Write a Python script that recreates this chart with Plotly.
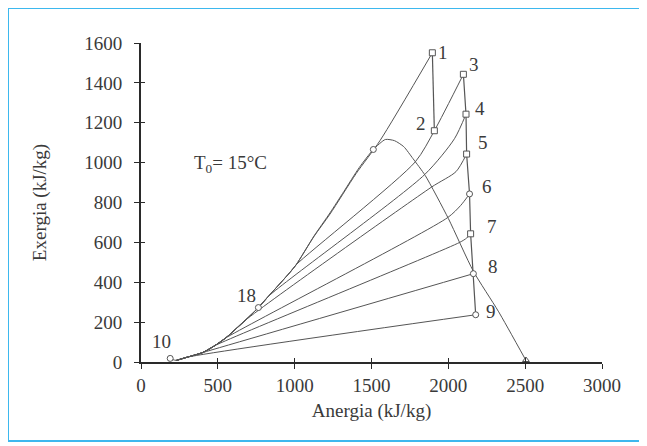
import plotly.graph_objects as go

# ---------------- data ----------------
x_ticks = [0, 500, 1000, 1500, 2000, 2500, 3000]
y_ticks = [0, 200, 400, 600, 800, 1000, 1200, 1400, 1600]

# common compressed/saturated liquid branch
liq_x = [230, 300, 400, 480, 550, 680, 764, 830, 970, 1010]
liq_y = [8, 24, 47, 82, 120, 210, 273, 330, 450, 488]

# isobar continuations (after leaving the liquid branch)
# (number of liquid points used, extra x, extra y)
iso_1 = (10, [1126, 1230, 1400, 1555, 1896], [630, 742, 945, 1110, 1551])
iso_3 = (10, [1785, 1909, 2098], [1004, 1160, 1443])
iso_4 = (8, [1846, 2040, 2115], [940, 1120, 1243])
iso_5 = (6, [1890, 2050, 2119], [877, 955, 1043])
iso_6 = (5, [1997, 2080, 2138], [725, 785, 843])
iso_7 = (4, [2074, 2120, 2145], [600, 622, 643])
iso_8 = (3, [2163], [443])
iso_9 = (2, [2178], [237])

# saturation dome
dome_x = [195] + liq_x + [1126, 1230, 1320, 1420, 1512, 1590, 1650, 1710, 1770,
                          1850, 2000, 2163, 2325, 2505]
dome_y = [15] + liq_y + [632, 748, 855, 975, 1066, 1116, 1110, 1080, 1020,
                         935, 720, 455, 255, 8]

# cycle state points
exp12_x = [1896, 1909]
exp12_y = [1551, 1160]
turb_x = [2098, 2115, 2119, 2138, 2145, 2163, 2178]
turb_y = [1443, 1243, 1043, 843, 643, 443, 237]

pts_labels = ["1", "2", "3", "4", "5", "6", "7", "8", "9", "10", "18"]
pts_x = [1896, 1909, 2098, 2115, 2119, 2138, 2145, 2163, 2178, 190, 764]
pts_y = [1551, 1160, 1443, 1243, 1043, 843, 643, 443, 237, 18, 273]
pts_sym = ["square", "square", "square", "square", "square",
           "circle", "square", "circle", "circle", "circle", "circle"]
lab_dx = [11, -13, 11, 14, 16, 17, 21, 20, 15, -9, -12]
lab_dy = [0, 7, 10, 6, 12, 7, 7, 7, 3, 17, 12]

crit_x = [1512]
crit_y = [1066]
end_x = [2505]
end_y = [10]

# ---------------- figure ----------------
LINE = "#555555"
FONT = "Liberation Serif"
TXT = "#3a3a3a"

fig = go.Figure()

for n, ex, ey in [iso_1, iso_3, iso_4, iso_5, iso_6, iso_7, iso_8, iso_9]:
    fig.add_trace(go.Scatter(
        x=liq_x[:n] + ex, y=liq_y[:n] + ey, mode="lines",
        line=dict(color=LINE, width=1, shape="spline", smoothing=0.7),
        hoverinfo="skip"))

fig.add_trace(go.Scatter(
    x=dome_x, y=dome_y, mode="lines",
    line=dict(color=LINE, width=1, shape="spline", smoothing=0.6),
    hoverinfo="skip"))

fig.add_trace(go.Scatter(x=exp12_x, y=exp12_y, mode="lines",
                         line=dict(color=LINE, width=1.2)))
fig.add_trace(go.Scatter(x=turb_x, y=turb_y, mode="lines",
                         line=dict(color=LINE, width=1.2)))

fig.add_trace(go.Scatter(
    x=pts_x, y=pts_y, mode="markers",
    marker=dict(symbol=pts_sym, size=6, color="white",
                line=dict(color=LINE, width=1))))
fig.add_trace(go.Scatter(
    x=crit_x + end_x, y=crit_y + end_y, mode="markers",
    marker=dict(symbol=["circle", "triangle-up"], size=6,
                color="white", line=dict(color=LINE, width=1))))

# invisible trace to keep the overlay axes drawn
fig.add_trace(go.Scatter(x=[0], y=[0], xaxis="x2", yaxis="y2", mode="markers",
                         marker=dict(opacity=0), hoverinfo="skip"))

for t, x, y, dx, dy in zip(pts_labels, pts_x, pts_y, lab_dx, lab_dy):
    fig.add_annotation(x=x, y=y, text=t, showarrow=False, xshift=dx, yshift=dy,
                       font=dict(family=FONT, size=19, color=TXT))

fig.add_annotation(x=335, y=995, text="T<sub>0</sub>= 15°C", showarrow=False,
                   xanchor="left", yanchor="middle",
                   font=dict(family=FONT, size=19, color=TXT))

# light blue frame
fig.add_shape(type="rect", xref="paper", yref="paper",
              x0=-0.2885, x1=1.0846, y0=-0.2476, y1=1.1097,
              line=dict(color="#3db8ee", width=2), fillcolor="rgba(0,0,0,0)")

axis_common = dict(showgrid=False, zeroline=False, showline=True,
                   linecolor="#2a2a2a", linewidth=2, ticks="outside",
                   ticklen=5, tickwidth=1.3, tickcolor="#2a2a2a",
                   tickfont=dict(family=FONT, size=19, color=TXT))

fig.update_layout(
    width=647, height=446,
    margin=dict(l=133, r=53, t=35, b=92),
    paper_bgcolor="white", plot_bgcolor="white",
    showlegend=False,
    xaxis=dict(range=[0, 3000], tickvals=x_ticks,
               title=dict(text="Anergia (kJ/kg)", standoff=9,
                          font=dict(family=FONT, size=19, color=TXT)),
               ticklabelstandoff=0, **axis_common),
    yaxis=dict(range=[0, 1600], tickvals=y_ticks,
               title=dict(text="Exergia (kJ/kg)", standoff=33,
                          font=dict(family=FONT, size=19, color=TXT)),
               ticklabelstandoff=8, **axis_common),
    xaxis2=dict(range=[0, 3000], tickvals=x_ticks, overlaying="x",
                showticklabels=False, showgrid=False, zeroline=False,
                ticks="inside", ticklen=4, tickwidth=1.3, tickcolor="#2a2a2a",
                side="bottom", showline=False),
    yaxis2=dict(range=[0, 1600], tickvals=y_ticks, overlaying="y",
                showticklabels=False, showgrid=False, zeroline=False,
                ticks="inside", ticklen=4, tickwidth=1.3, tickcolor="#2a2a2a",
                side="left", showline=False),
)

fig.write_html("out.html")
